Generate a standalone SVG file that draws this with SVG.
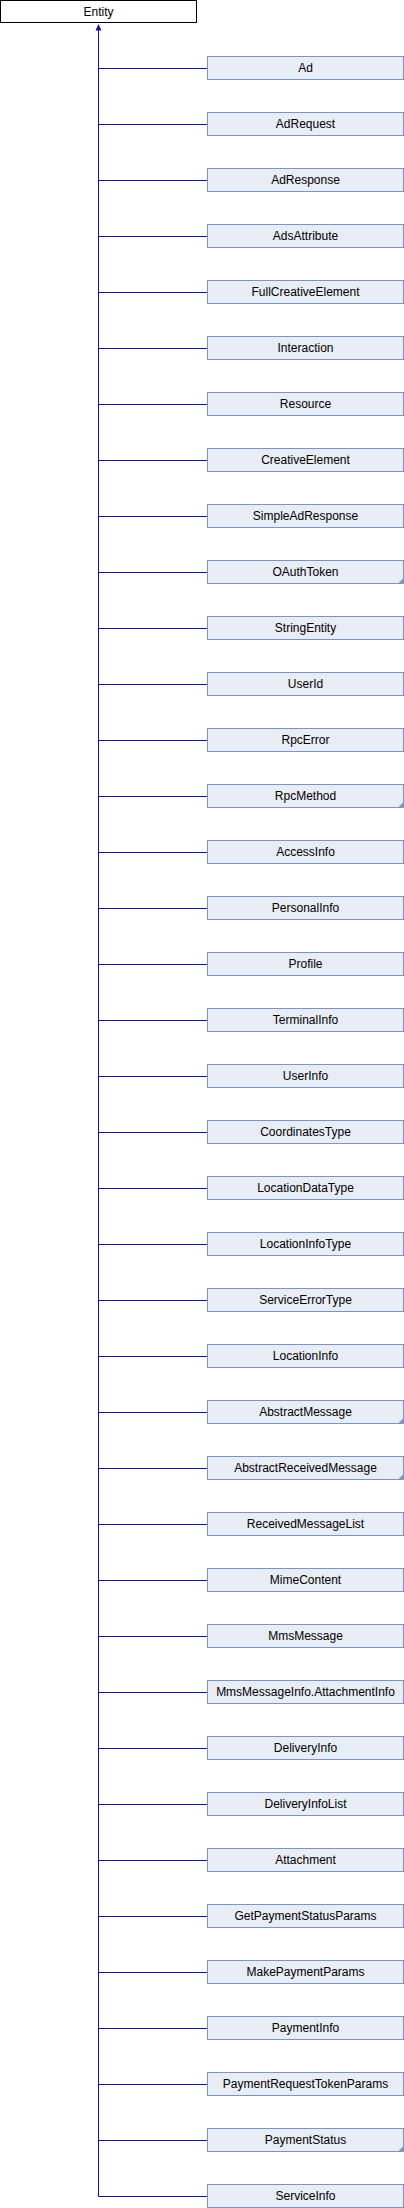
<svg xmlns="http://www.w3.org/2000/svg" width="404" height="2208" viewBox="0 0 404 2208">
<defs>
<style>
.t{font-family:"Liberation Sans",Arial,sans-serif;font-size:12px;text-anchor:middle;fill:#000}
.b{fill:#e8ecf4;stroke:#7b93c5;stroke-width:1}
.c{fill:#7b93c5}
.e{stroke:#12129c;stroke-width:1;fill:none}
</style>
</defs>
<rect width="404" height="2208" fill="#fff"/>
<g id="connectors">
<path class="e" d="M98.5 30V2196.5"/>
<polygon points="98.5,24 95.5,30.5 101.5,30.5" fill="#12129c"/>
<path class="e" d="M98.5 68.5H207 M98.5 124.5H207 M98.5 180.5H207 M98.5 236.5H207 M98.5 292.5H207 M98.5 348.5H207 M98.5 404.5H207 M98.5 460.5H207 M98.5 516.5H207 M98.5 572.5H207 M98.5 628.5H207 M98.5 684.5H207 M98.5 740.5H207 M98.5 796.5H207 M98.5 852.5H207 M98.5 908.5H207 M98.5 964.5H207 M98.5 1020.5H207 M98.5 1076.5H207 M98.5 1132.5H207 M98.5 1188.5H207 M98.5 1244.5H207 M98.5 1300.5H207 M98.5 1356.5H207 M98.5 1412.5H207 M98.5 1468.5H207 M98.5 1524.5H207 M98.5 1580.5H207 M98.5 1636.5H207 M98.5 1692.5H207 M98.5 1748.5H207 M98.5 1804.5H207 M98.5 1860.5H207 M98.5 1916.5H207 M98.5 1972.5H207 M98.5 2028.5H207 M98.5 2084.5H207 M98.5 2140.5H207 M98.5 2196.5H207"/>
</g>
<g id="Entity"><rect x="0.5" y="0.5" width="196" height="22" fill="#fff" stroke="#000"/><text class="t" x="98.5" y="15.5">Entity</text></g>
<g id="Ad"><rect class="b" x="207.5" y="56.5" width="196" height="23"/><text class="t" x="305.5" y="72">Ad</text></g>
<g id="AdRequest"><rect class="b" x="207.5" y="112.5" width="196" height="23"/><text class="t" x="305.5" y="128">AdRequest</text></g>
<g id="AdResponse"><rect class="b" x="207.5" y="168.5" width="196" height="23"/><text class="t" x="305.5" y="184">AdResponse</text></g>
<g id="AdsAttribute"><rect class="b" x="207.5" y="224.5" width="196" height="23"/><text class="t" x="305.5" y="240">AdsAttribute</text></g>
<g id="FullCreativeElement"><rect class="b" x="207.5" y="280.5" width="196" height="23"/><text class="t" x="305.5" y="296">FullCreativeElement</text></g>
<g id="Interaction"><rect class="b" x="207.5" y="336.5" width="196" height="23"/><text class="t" x="305.5" y="352">Interaction</text></g>
<g id="Resource"><rect class="b" x="207.5" y="392.5" width="196" height="23"/><text class="t" x="305.5" y="408">Resource</text></g>
<g id="CreativeElement"><rect class="b" x="207.5" y="448.5" width="196" height="23"/><text class="t" x="305.5" y="464">CreativeElement</text></g>
<g id="SimpleAdResponse"><rect class="b" x="207.5" y="504.5" width="196" height="23"/><text class="t" x="305.5" y="520">SimpleAdResponse</text></g>
<g id="OAuthToken"><rect class="b" x="207.5" y="560.5" width="196" height="23"/><polygon class="c" points="404,577.5 404,584 397.5,584"/><text class="t" x="305.5" y="576">OAuthToken</text></g>
<g id="StringEntity"><rect class="b" x="207.5" y="616.5" width="196" height="23"/><text class="t" x="305.5" y="632">StringEntity</text></g>
<g id="UserId"><rect class="b" x="207.5" y="672.5" width="196" height="23"/><text class="t" x="305.5" y="688">UserId</text></g>
<g id="RpcError"><rect class="b" x="207.5" y="728.5" width="196" height="23"/><text class="t" x="305.5" y="744">RpcError</text></g>
<g id="RpcMethod"><rect class="b" x="207.5" y="784.5" width="196" height="23"/><polygon class="c" points="404,801.5 404,808 397.5,808"/><text class="t" x="305.5" y="800">RpcMethod</text></g>
<g id="AccessInfo"><rect class="b" x="207.5" y="840.5" width="196" height="23"/><text class="t" x="305.5" y="856">AccessInfo</text></g>
<g id="PersonalInfo"><rect class="b" x="207.5" y="896.5" width="196" height="23"/><text class="t" x="305.5" y="912">PersonalInfo</text></g>
<g id="Profile"><rect class="b" x="207.5" y="952.5" width="196" height="23"/><text class="t" x="305.5" y="968">Profile</text></g>
<g id="TerminalInfo"><rect class="b" x="207.5" y="1008.5" width="196" height="23"/><text class="t" x="305.5" y="1024">TerminalInfo</text></g>
<g id="UserInfo"><rect class="b" x="207.5" y="1064.5" width="196" height="23"/><text class="t" x="305.5" y="1080">UserInfo</text></g>
<g id="CoordinatesType"><rect class="b" x="207.5" y="1120.5" width="196" height="23"/><text class="t" x="305.5" y="1136">CoordinatesType</text></g>
<g id="LocationDataType"><rect class="b" x="207.5" y="1176.5" width="196" height="23"/><text class="t" x="305.5" y="1192">LocationDataType</text></g>
<g id="LocationInfoType"><rect class="b" x="207.5" y="1232.5" width="196" height="23"/><text class="t" x="305.5" y="1248">LocationInfoType</text></g>
<g id="ServiceErrorType"><rect class="b" x="207.5" y="1288.5" width="196" height="23"/><text class="t" x="305.5" y="1304">ServiceErrorType</text></g>
<g id="LocationInfo"><rect class="b" x="207.5" y="1344.5" width="196" height="23"/><text class="t" x="305.5" y="1360">LocationInfo</text></g>
<g id="AbstractMessage"><rect class="b" x="207.5" y="1400.5" width="196" height="23"/><polygon class="c" points="404,1417.5 404,1424 397.5,1424"/><text class="t" x="305.5" y="1416">AbstractMessage</text></g>
<g id="AbstractReceivedMessage"><rect class="b" x="207.5" y="1456.5" width="196" height="23"/><polygon class="c" points="404,1473.5 404,1480 397.5,1480"/><text class="t" x="305.5" y="1472">AbstractReceivedMessage</text></g>
<g id="ReceivedMessageList"><rect class="b" x="207.5" y="1512.5" width="196" height="23"/><text class="t" x="305.5" y="1528">ReceivedMessageList</text></g>
<g id="MimeContent"><rect class="b" x="207.5" y="1568.5" width="196" height="23"/><text class="t" x="305.5" y="1584">MimeContent</text></g>
<g id="MmsMessage"><rect class="b" x="207.5" y="1624.5" width="196" height="23"/><text class="t" x="305.5" y="1640">MmsMessage</text></g>
<g id="MmsMessageInfo.AttachmentInfo"><rect class="b" x="207.5" y="1680.5" width="196" height="23"/><text class="t" x="305.5" y="1696">MmsMessageInfo.AttachmentInfo</text></g>
<g id="DeliveryInfo"><rect class="b" x="207.5" y="1736.5" width="196" height="23"/><text class="t" x="305.5" y="1752">DeliveryInfo</text></g>
<g id="DeliveryInfoList"><rect class="b" x="207.5" y="1792.5" width="196" height="23"/><text class="t" x="305.5" y="1808">DeliveryInfoList</text></g>
<g id="Attachment"><rect class="b" x="207.5" y="1848.5" width="196" height="23"/><text class="t" x="305.5" y="1864">Attachment</text></g>
<g id="GetPaymentStatusParams"><rect class="b" x="207.5" y="1904.5" width="196" height="23"/><text class="t" x="305.5" y="1920">GetPaymentStatusParams</text></g>
<g id="MakePaymentParams"><rect class="b" x="207.5" y="1960.5" width="196" height="23"/><text class="t" x="305.5" y="1976">MakePaymentParams</text></g>
<g id="PaymentInfo"><rect class="b" x="207.5" y="2016.5" width="196" height="23"/><text class="t" x="305.5" y="2032">PaymentInfo</text></g>
<g id="PaymentRequestTokenParams"><rect class="b" x="207.5" y="2072.5" width="196" height="23"/><text class="t" x="305.5" y="2088">PaymentRequestTokenParams</text></g>
<g id="PaymentStatus"><rect class="b" x="207.5" y="2128.5" width="196" height="23"/><polygon class="c" points="404,2145.5 404,2152 397.5,2152"/><text class="t" x="305.5" y="2144">PaymentStatus</text></g>
<g id="ServiceInfo"><rect class="b" x="207.5" y="2184.5" width="196" height="23"/><text class="t" x="305.5" y="2200">ServiceInfo</text></g>
</svg>
